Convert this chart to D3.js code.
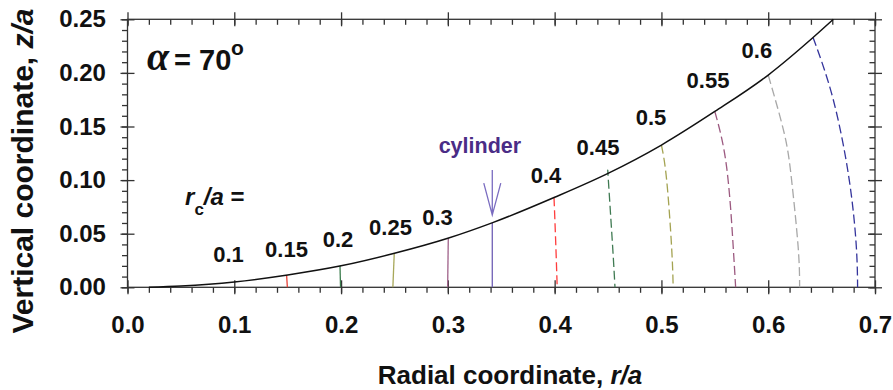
<!DOCTYPE html>
<html>
<head>
<meta charset="utf-8">
<script src="https://cdn.jsdelivr.net/npm/d3@7"></script>
<style>
  body { margin: 0; background: #fff; }
</style>
</head>
<body>
<div id="chart"></div>
<script>
// surface profile z/a vs r/a (black line)
const profileR = [0.02, 0.05, 0.1, 0.15, 0.2, 0.25, 0.3, 0.342, 0.4, 0.45, 0.5, 0.55, 0.6, 0.642, 0.661];
const profileZ = [0.0, 0.0012, 0.005, 0.0115, 0.020, 0.0317, 0.0457, 0.0603, 0.084, 0.1063, 0.1327, 0.164, 0.198, 0.233, 0.25];

// lines of constant rc/a, read top -> bottom
const lineR = [
  [0.149, 0.1497],
  [0.199, 0.1995],
  [0.2498, 0.2485],
  [0.3004, 0.2998],
  [0.3416, 0.3416],
  [0.3994, 0.401, 0.4024],
  [0.450, 0.4503, 0.4543, 0.4565],
  [0.500, 0.5049, 0.5095, 0.511],
  [0.550, 0.561, 0.5672, 0.5695],
  [0.600, 0.6150, 0.6219, 0.628, 0.6294],
  [0.642, 0.661, 0.6759, 0.6825, 0.6837]
];
const lineZ = [
  [0.0115, 0],
  [0.020, 0],
  [0.0317, 0],
  [0.0457, 0],
  [0.0603, 0],
  [0.084, 0.042, 0],
  [0.1063, 0.100, 0.038, 0],
  [0.1327, 0.100, 0.038, 0],
  [0.164, 0.1125, 0.038, 0],
  [0.198, 0.1437, 0.100, 0.038, 0],
  [0.233, 0.1747, 0.100, 0.038, 0]
];
const lineColors = ["#e8443a", "#3c7d4e", "#a8a85a", "#a0628a", "#6f5fb5",
                    "#ff3c3c", "#3f7a52", "#a4a352", "#9c5a80", "#a8a8a8", "#34349c"];
const lineDashed = [false, false, false, false, false, true, true, true, true, true, true];

// rc/a value labels
const rcLabels = ["0.1", "0.15", "0.2", "0.25", "0.3", "0.4", "0.45", "0.5", "0.55", "0.6"];
const rcLabelR = [0.0946, 0.1489, 0.1971, 0.2463, 0.2903, 0.3919, 0.4406, 0.4902, 0.5436, 0.5894];
const rcLabelZ = [0.0236, 0.0283, 0.0376, 0.0488, 0.0581, 0.0973, 0.1234, 0.1514, 0.1859, 0.2139];

const xMajor = [0, 0.1, 0.2, 0.3, 0.4, 0.5, 0.6, 0.7];
const yMajor = [0, 0.05, 0.10, 0.15, 0.20, 0.25];

const width = 893;
const height = 390;
const margin = { top: 19.3, right: 18, bottom: 102.7, left: 127.5 };
const sansFont = "'Liberation Sans', Arial, sans-serif";

const svg = d3.select("#chart")
  .append("svg")
  .attr("width", width)
  .attr("height", height)
  .attr("font-family", sansFont)
  .attr("font-weight", "bold");

const x = d3.scaleLinear()
  .domain([0, 0.7])
  .range([margin.left, width - margin.right]);

const y = d3.scaleLinear()
  .domain([0, 0.25])
  .range([height - margin.bottom, margin.top]);

const xMinor = d3.range(0, 0.7001, 0.02);
const yMinor = d3.range(0, 0.2501, 0.01);
const axisColor = "#333";

function styleTicks(g) {
  g.select(".domain").remove();
  g.selectAll(".tick line").attr("stroke", axisColor).attr("stroke-width", 1.3);
}

function addTicks(axisFn, scale, transform, values, size) {
  svg.append("g")
    .attr("transform", transform)
    .call(axisFn(scale).tickValues(values).tickSize(size).tickFormat(""))
    .call(styleTicks);
}

const bottomT = `translate(0,${y(0)})`;
const topT = `translate(0,${y(0.25)})`;
const leftT = `translate(${x(0)},0)`;
const rightT = `translate(${x(0.7)},0)`;

// minor ticks: outward on bottom/left, mirrored (inward) on top/right
addTicks(d3.axisBottom, x, bottomT, xMinor, 5.5);
addTicks(d3.axisBottom, x, topT, xMinor, 5.5);
addTicks(d3.axisLeft, y, leftT, yMinor, 5.5);
addTicks(d3.axisLeft, y, rightT, yMinor, 5.5);

// major ticks cross the axis line
[bottomT, topT].forEach(t => {
  addTicks(d3.axisBottom, x, t, xMajor, 7);
  addTicks(d3.axisTop, x, t, xMajor, 7);
});
[leftT, rightT].forEach(t => {
  addTicks(d3.axisLeft, y, t, yMajor, 7);
  addTicks(d3.axisRight, y, t, yMajor, 7);
});

function labelStyle(g) {
  g.attr("font-family", sansFont).attr("font-weight", "bold");
  g.select(".domain").remove();
  g.selectAll(".tick line").remove();
  g.selectAll("text").attr("font-size", 24).attr("fill", "#111");
}

// tick labels
svg.append("g")
  .attr("transform", bottomT)
  .call(d3.axisBottom(x).tickValues(xMajor).tickSize(7).tickPadding(22).tickFormat(d3.format(".1f")))
  .call(labelStyle);

svg.append("g")
  .attr("transform", leftT)
  .call(d3.axisLeft(y).tickValues(yMajor).tickSize(7).tickPadding(14.6).tickFormat(d3.format(".2f")))
  .call(labelStyle);

// frame
svg.append("rect")
  .attr("x", x(0))
  .attr("y", y(0.25))
  .attr("width", x(0.7) - x(0))
  .attr("height", y(0) - y(0.25))
  .attr("fill", "none")
  .attr("stroke", axisColor)
  .attr("stroke-width", 1.3);

// constant-rc lines
const arcLine = d3.line()
  .x(d => x(d[0]))
  .y(d => y(d[1]))
  .curve(d3.curveNatural);

lineR.forEach((rs, i) => {
  svg.append("path")
    .datum(rs.map((r, j) => [r, lineZ[i][j]]))
    .attr("d", arcLine)
    .attr("fill", "none")
    .attr("stroke", lineColors[i])
    .attr("stroke-width", 1.3)
    .attr("stroke-dasharray", lineDashed[i] ? "9,4" : null);
});

// profile
const profile = d3.line()
  .x(d => x(d[0]))
  .y(d => y(d[1]))
  .curve(d3.curveMonotoneX);

svg.append("path")
  .datum(profileR.map((r, i) => [r, profileZ[i]]))
  .attr("d", profile)
  .attr("fill", "none")
  .attr("stroke", "#111")
  .attr("stroke-width", 1.5);

// value labels
svg.append("g")
  .selectAll("text")
  .data(rcLabels)
  .enter()
  .append("text")
  .attr("x", (d, i) => x(rcLabelR[i]))
  .attr("y", (d, i) => y(rcLabelZ[i]))
  .attr("text-anchor", "middle")
  .attr("font-size", 22)
  .attr("fill", "#111")
  .text(d => d);

// "rc/a =" label
const rc = svg.append("text")
  .attr("x", x(0.0539))
  .attr("y", y(0.0765))
  .attr("font-size", 24)
  .attr("fill", "#111");
rc.append("tspan").attr("font-style", "italic").text("r");
rc.append("tspan").attr("font-size", 17).attr("dy", 10).text("c");
rc.append("tspan").attr("font-style", "italic").attr("dy", -10).text("/a");
rc.append("tspan").text(" =");

// alpha label
const ax0 = x(0.0183);
const ay0 = y(0.2027);
svg.append("text")
  .attr("x", ax0).attr("y", ay0)
  .attr("font-family", "'Liberation Serif', 'Times New Roman', serif")
  .attr("font-style", "italic")
  .attr("font-weight", "bold")
  .attr("font-size", 40)
  .attr("fill", "#111")
  .text("α");
svg.append("text")
  .attr("x", ax0 + 27).attr("y", ay0)
  .attr("font-size", 29)
  .attr("fill", "#111")
  .text("=");
svg.append("text")
  .attr("x", ax0 + 52).attr("y", ay0)
  .attr("font-size", 29)
  .attr("fill", "#111")
  .text("70");
svg.append("text")
  .attr("x", ax0 + 84).attr("y", ay0 - 15)
  .attr("font-size", 21)
  .attr("fill", "#111")
  .text("o");

// cylinder label and arrow
const cylR = 0.3416;
svg.append("text")
  .attr("x", x(0.330))
  .attr("y", y(0.125))
  .attr("text-anchor", "middle")
  .attr("font-size", 21.5)
  .attr("fill", "#4a2c86")
  .text("cylinder");

const tipX = x(cylR);
const tipY = y(0.0674);
svg.append("path")
  .attr("d", `M${tipX},${y(0.1094)}L${tipX},${tipY}M${tipX - 8.5},${tipY - 32}L${tipX},${tipY}L${tipX + 8.5},${tipY - 32}`)
  .attr("fill", "none")
  .attr("stroke", "#7a6cc0")
  .attr("stroke-width", 1.3);

// axis titles
svg.append("text")
  .attr("x", 510)
  .attr("y", 384)
  .attr("text-anchor", "middle")
  .attr("font-size", 26)
  .attr("fill", "#111")
  .html('Radial coordinate, <tspan font-style="italic">r/a</tspan>');

svg.append("text")
  .attr("transform", "translate(33,171) rotate(-90)")
  .attr("text-anchor", "middle")
  .attr("font-size", 30)
  .attr("fill", "#111")
  .html('Vertical coordinate, <tspan font-style="italic">z/a</tspan>');
</script>
</body>
</html>
